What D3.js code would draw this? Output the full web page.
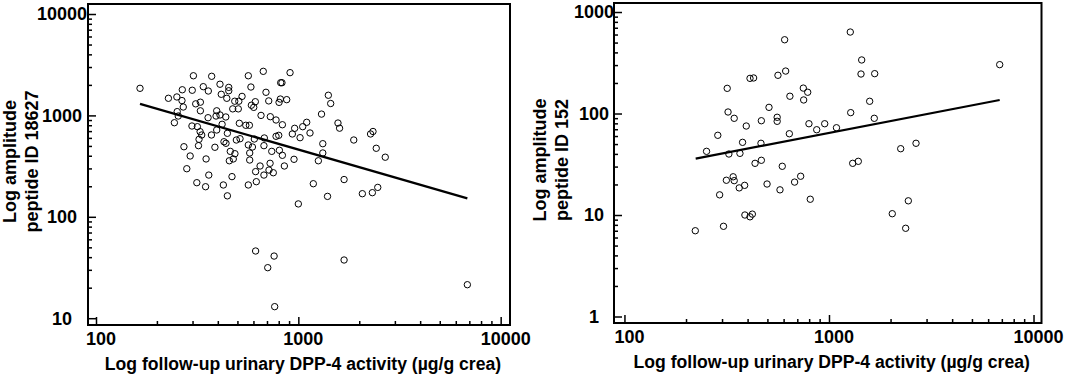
<!DOCTYPE html>
<html>
<head>
<meta charset="utf-8">
<script src="https://cdn.jsdelivr.net/npm/d3@7"></script>
<style>
  body { margin: 0; background: #fff; }
  svg text { font-family: "Liberation Sans", Arial, sans-serif; font-weight: bold; font-size: 18px; fill: #000; }
  svg text.axis-title { font-size: 17.6px; }
</style>
</head>
<body>
<svg id="chart" width="1069" height="377"></svg>
<script>
// ---- Data ----
// Left panel: follow-up urinary DPP-4 activity vs amplitude of peptide ID 18627
const leftX = [165, 303, 373, 566, 671, 910, 818, 830, 583, 453, 410, 339, 359, 299, 267, 453, 416, 443, 527, 692,
  228, 251, 266, 270, 311, 328, 328, 485, 508, 474, 505, 586, 613, 602, 714, 803, 815, 876, 1407, 1445,
  252, 255, 244, 395, 392, 410, 438, 358, 420, 298, 317, 511, 550, 573, 654, 727, 776, 834, 1302, 1570,
  1599, 1100, 1051, 959, 934, 1020, 1142, 327, 333, 323, 321, 372, 395, 446, 429, 439, 494, 515, 606, 679,
  776, 800, 566, 593, 676, 739, 806, 834, 575, 575, 486, 461, 477, 456, 387, 272, 292, 350, 281, 361,
  470, 315, 348, 426, 446, 566, 620, 647, 615, 676, 716, 752, 725, 853, 952, 1000, 1186, 1256, 1321, 1321,
  1394, 1683, 1879, 2275, 2339, 2427, 2689, 2072, 2322, 2469, 615, 759, 706, 1683, 6845, 764];
const leftY = [1850, 2460, 2430, 2460, 2720, 2640, 2100, 2100, 1905, 1890, 2030, 1920, 1740, 1770, 1790, 1750, 1615, 1475, 1540, 1690,
  1475, 1520, 1400, 1210, 1300, 1350, 1110, 1380, 1380, 1160, 1160, 1260, 1365, 1200, 1390, 1345, 1450, 1430, 1580, 1310,
  1090, 986, 847, 1110, 986, 1010, 965, 949, 817, 786, 774, 836, 799, 799, 1000, 971, 901, 809, 1030, 841,
  748, 855, 774, 746, 656, 603, 671, 691, 641, 581, 503, 641, 718, 666, 550, 531, 572, 589, 585, 599,
  622, 636, 511, 488, 503, 442, 453, 404, 426, 363, 419, 442, 372, 357, 485, 491, 398, 372, 298, 258,
  249, 217, 198, 206, 161, 206, 222, 317, 279, 258, 289, 272, 337, 317, 369, 134, 212, 357, 426, 526,
  159, 233, 572, 656, 694, 474, 387, 169, 173, 195, 46, 41, 31.5, 37.5, 21.4, 13];
const leftFit = [[165, 1300], [6845, 152]];

// Right panel: follow-up urinary DPP-4 activity vs amplitude of peptide ID 152
const rightX = [607, 411, 428, 563, 614, 318, 749, 787, 644, 752, 509, 321, 344, 467, 558, 558, 394, 798, 871, 953,
  1088, 286, 640, 378, 465, 252, 324, 367, 435, 467, 591, 340, 315, 344, 364, 387, 498, 576, 679, 727,
  292, 810, 388, 411, 422, 222, 305, 1271, 1445, 1434, 1673, 1581, 1277, 1665, 6834, 2242, 2664, 1306, 1391, 2443,
  2039, 2371];
const rightY = [533, 222, 224, 238, 262, 177, 178, 162, 148, 136, 115, 103.5, 89.7, 84.9, 91.8, 83.8, 75.3, 79.3, 69.2, 79.3,
  72.4, 61, 63.2, 52, 50.9, 42.4, 39.9, 40.5, 32.3, 34.6, 30.2, 23.8, 22, 21.8, 18.5, 19.6, 20.2, 17.7, 21.1, 24.1,
  15.8, 14.3, 10, 9.6, 10.2, 7.0, 7.74, 635, 337, 245, 247, 132, 102, 89.7, 303, 45, 50.9, 32.3, 33.8, 13.8,
  10.3, 7.4];
const rightFit = [[223, 36], [6834, 136]];

// Tick labels
const xTicks = [100, 1000, 10000];
const leftYTicks = [10, 100, 1000, 10000];
const rightYTicks = [1, 10, 100, 1000];

const xTitle = 'Log follow-up urinary DPP-4 activity (µg/g crea)';

class LogScatter {

  constructor(_config, _data) {
    this.config = {
      svg: _config.svg,
      frame: _config.frame,
      xDomain: _config.xDomain,
      yDomain: _config.yDomain,
      xTicks: _config.xTicks,
      yTicks: _config.yTicks,
      yTitle: _config.yTitle,
      yTitleX: _config.yTitleX,
      yLabelX: _config.yLabelX
    };
    this.data = _data;
    this.initVis();
  }

  initVis() {
    let vis = this;
    const f = vis.config.frame;

    vis.xScale = d3.scaleLog()
        .domain(vis.config.xDomain)
        .range([f.left, f.right]);

    vis.yScale = d3.scaleLog()
        .domain(vis.config.yDomain)
        .range([f.bottom, f.top]);

    vis.chart = vis.config.svg.append('g');
    vis.renderVis();
  }

  // minor ticks 2..9 inside each decade
  minorTicks(majors, scale) {
    const [lo, hi] = scale.domain();
    const out = [];
    majors.forEach(m => {
      for (let k = 2; k <= 9; k++) {
        const v = m * k;
        if (v > lo && v < hi) out.push(v);
      }
    });
    return out;
  }

  renderVis() {
    let vis = this;
    const f = vis.config.frame;

    // Ticks (inward), no domain path
    const tickGroup = (axis, transform) => vis.chart.append('g')
        .attr('transform', transform)
        .call(axis)
        .call(g => g.select('.domain').remove())
        .call(g => g.selectAll('line').attr('stroke-width', 1.5));

    tickGroup(d3.axisBottom(vis.xScale).tickValues(vis.minorTicks(vis.config.xTicks, vis.xScale)).tickSize(-4).tickFormat(''),
        `translate(0,${f.bottom})`);
    tickGroup(d3.axisBottom(vis.xScale).tickValues(vis.config.xTicks).tickSize(-8).tickFormat(''),
        `translate(0,${f.bottom})`);
    tickGroup(d3.axisLeft(vis.yScale).tickValues(vis.minorTicks(vis.config.yTicks, vis.yScale)).tickSize(-4).tickFormat(''),
        `translate(${f.left},0)`);
    tickGroup(d3.axisLeft(vis.yScale).tickValues(vis.config.yTicks).tickSize(-8).tickFormat(''),
        `translate(${f.left},0)`);

    // Frame
    vis.chart.append('rect')
        .attr('x', f.left)
        .attr('y', f.top)
        .attr('width', f.right - f.left)
        .attr('height', f.bottom - f.top)
        .attr('fill', 'none')
        .attr('stroke', '#000')
        .attr('stroke-width', 2);

    // Tick labels
    vis.chart.selectAll('.x-label')
        .data(vis.config.xTicks)
      .join('text')
        .attr('class', 'x-label')
        .attr('x', d => vis.xScale(d) + 5)
        .attr('y', f.bottom + 20)
        .attr('text-anchor', 'middle')
        .text(d => d);

    vis.chart.selectAll('.y-label')
        .data(vis.config.yTicks)
      .join('text')
        .attr('class', 'y-label')
        .attr('x', vis.config.yLabelX)
        .attr('y', d => vis.yScale(d))
        .attr('dy', '0.36em')
        .attr('text-anchor', 'middle')
        .text(d => d);

    // Axis titles
    vis.chart.append('text')
        .attr('class', 'axis-title')
        .attr('x', (f.left + f.right) / 2 + 4)
        .attr('y', f.bottom + 45)
        .attr('text-anchor', 'middle')
        .text(xTitle);

    vis.config.yTitle.forEach((line, i) => {
      vis.chart.append('text')
          .attr('transform', `translate(${vis.config.yTitleX[i]},${(f.top + f.bottom) / 2 - 3}) rotate(-90)`)
          .attr('text-anchor', 'middle')
          .text(line);
    });

    // Regression line
    vis.chart.append('path')
        .datum(vis.data.fit)
        .attr('fill', 'none')
        .attr('stroke', '#000')
        .attr('stroke-width', 2.2)
        .attr('d', d3.line().x(d => vis.xScale(d[0])).y(d => vis.yScale(d[1])));

    // Points
    vis.chart.selectAll('.point')
        .data(vis.data.x.map((x, i) => ({x: x, y: vis.data.y[i]})))
      .join('circle')
        .attr('class', 'point')
        .attr('r', 3.2)
        .attr('cx', d => vis.xScale(d.x))
        .attr('cy', d => vis.yScale(d.y))
        .attr('fill', 'none')
        .attr('stroke', '#000')
        .attr('stroke-width', 1);
  }
}

const svg = d3.select('#chart');

new LogScatter({
  svg: svg,
  frame: {left: 88, right: 510, top: 4, bottom: 325},
  xDomain: [91.3, 11120],
  yDomain: [8.57, 12550],
  xTicks: xTicks,
  yTicks: leftYTicks,
  yTitle: ['Log amplitude', 'peptide ID 18627'],
  yTitleX: [16, 38],
  yLabelX: 62
}, {x: leftX, y: leftY, fit: leftFit});

new LogScatter({
  svg: svg,
  frame: {left: 614, right: 1041.5, top: 3, bottom: 323},
  xDomain: [88.9, 10940],
  yDomain: [0.863, 1227],
  xTicks: xTicks,
  yTicks: rightYTicks,
  yTitle: ['Log amplitude', 'peptide ID 152'],
  yTitleX: [546, 568],
  yLabelX: 594
}, {x: rightX, y: rightY, fit: rightFit});
</script>
</body>
</html>
